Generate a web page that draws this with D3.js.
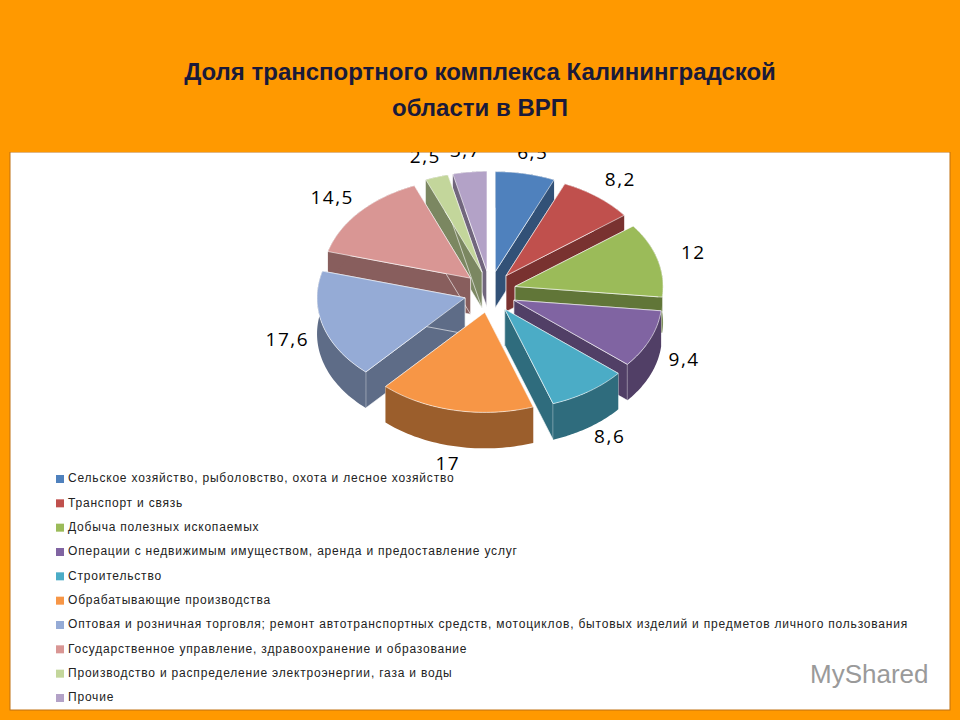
<!DOCTYPE html><html><head><meta charset="utf-8"><script src="https://cdn.jsdelivr.net/npm/d3@7"></script>
<style>body{margin:0;background:#FF9900}</style></head><body><svg id="c" width="960" height="720"></svg>
<script>
const categories=["Сельское хозяйство, рыболовство, охота и лесное хозяйство","Транспорт и связь","Добыча полезных ископаемых","Операции с недвижимым имуществом, аренда и предоставление услуг","Строительство","Обрабатывающие производства","Оптовая и розничная торговля; ремонт автотранспортных средств, мотоциклов, бытовых изделий и предметов личного пользования","Государственное управление, здравоохранение и образование","Производство и распределение электроэнергии, газа и воды","Прочие"];
const values=[6.5,8.2,12,9.4,8.6,17,17.6,14.5,2.5,3.7];
const valueLabels=["6,5","8,2","12","9,4","8,6","17","17,6","14,5","2,5","3,7"];
const colors=["#4F81BD","#C0504D","#9BBB59","#8064A2","#4BACC6","#F79646","#95ABD6","#D99694","#C3D69B","#B3A2C7"];
const title=["Доля транспортного комплекса Калининградской","области в ВРП"];

const svg=d3.select("#c");
svg.append("rect").attr("width",960).attr("height",720).attr("fill","#FF9900");
svg.append("rect").attr("x",10).attr("y",152).attr("width",940).attr("height",558).attr("fill","#fff").attr("stroke","#c07010");

const cx=490,cy=292,rx=148,ry=100,depth=36,expl=26;
const pie=d3.pie().sort(null).value(d=>d)(values);
function P(a,r,ox,oy,dz){return [ox+cx+r*rx*Math.sin(a), oy+cy-r*ry*Math.cos(a)+(dz||0)];}
const g=svg.append("g");
const slices=pie.map((p,i)=>{const m=(p.startAngle+p.endAngle)/2;return {p,i,m,ox:expl*Math.sin(m),oy:-expl*0.8*Math.cos(m)};});
const line=d3.line();
const order=slices.slice().sort((a,b)=>(-Math.cos(a.m))-(-Math.cos(b.m)));
order.forEach(s=>{
  const {p,i,ox,oy}=s;const col=d3.color(colors[i]);const dark=col.darker(1.3).toString();
  const n=40,arcTop=[],arcBot=[];
  for(let k=0;k<=n;k++){const a=p.startAngle+(p.endAngle-p.startAngle)*k/n;arcTop.push(P(a,1,ox,oy));arcBot.push(P(a,1,ox,oy,depth));}
  const c0=P(0,0,ox,oy),c1=P(0,0,ox,oy,depth);
  [p.startAngle,p.endAngle].forEach(a=>{
    g.append("path").attr("d",line([c0,P(a,1,ox,oy),P(a,1,ox,oy,depth),c1])+"Z").attr("fill",dark).attr("stroke","#fff").attr("stroke-width",0.6);
  });
  g.append("path").attr("d",line(arcTop.concat(arcBot.slice().reverse()))+"Z").attr("fill",dark);
  g.append("path").attr("d",line([c0].concat(arcTop))+"Z").attr("fill",colors[i]).attr("stroke","#fff").attr("stroke-width",0.6);
});
slices.forEach(s=>{
  const c=Math.cos(s.m),sn=Math.sin(s.m);
  const x=cx+s.ox+1.25*rx*sn, y=cy+s.oy-1.2*ry*c+(c<0?depth*(-c):0);
  svg.append("text").attr("x",x).attr("y",y).attr("text-anchor","middle").attr("dominant-baseline","middle")
    .attr("font-family","Open Sans, sans-serif").attr("font-size",19).attr("letter-spacing",1.5).attr("fill","#000").text(valueLabels[s.i]);
});
const ly=d3.scalePoint().domain(d3.range(categories.length)).range([479,698]);
categories.forEach((t,i)=>{
  svg.append("rect").attr("x",56).attr("y",ly(i)-4).attr("width",8).attr("height",8).attr("fill",colors[i]);
  svg.append("text").attr("x",68).attr("y",ly(i)).attr("dominant-baseline","middle").attr("font-family","Liberation Sans, Arial, sans-serif")
    .attr("font-size",12).attr("fill","#222").attr("letter-spacing",0.8).text(t);
});
svg.append("rect").attr("width",960).attr("height",152).attr("fill","#FF9900");
title.forEach((t,i)=>svg.append("text").attr("x",480).attr("y",80+i*36).attr("text-anchor","middle").attr("font-family","Liberation Sans, Arial, sans-serif").attr("font-weight","bold").attr("font-size",24).attr("fill","#1a1a3a").text(t));
svg.append("text").attr("x",810).attr("y",683).attr("font-family","Liberation Sans, Arial, sans-serif").attr("font-size",26).attr("fill","#9a9a9a").text("MyShared");
</script></body></html>
